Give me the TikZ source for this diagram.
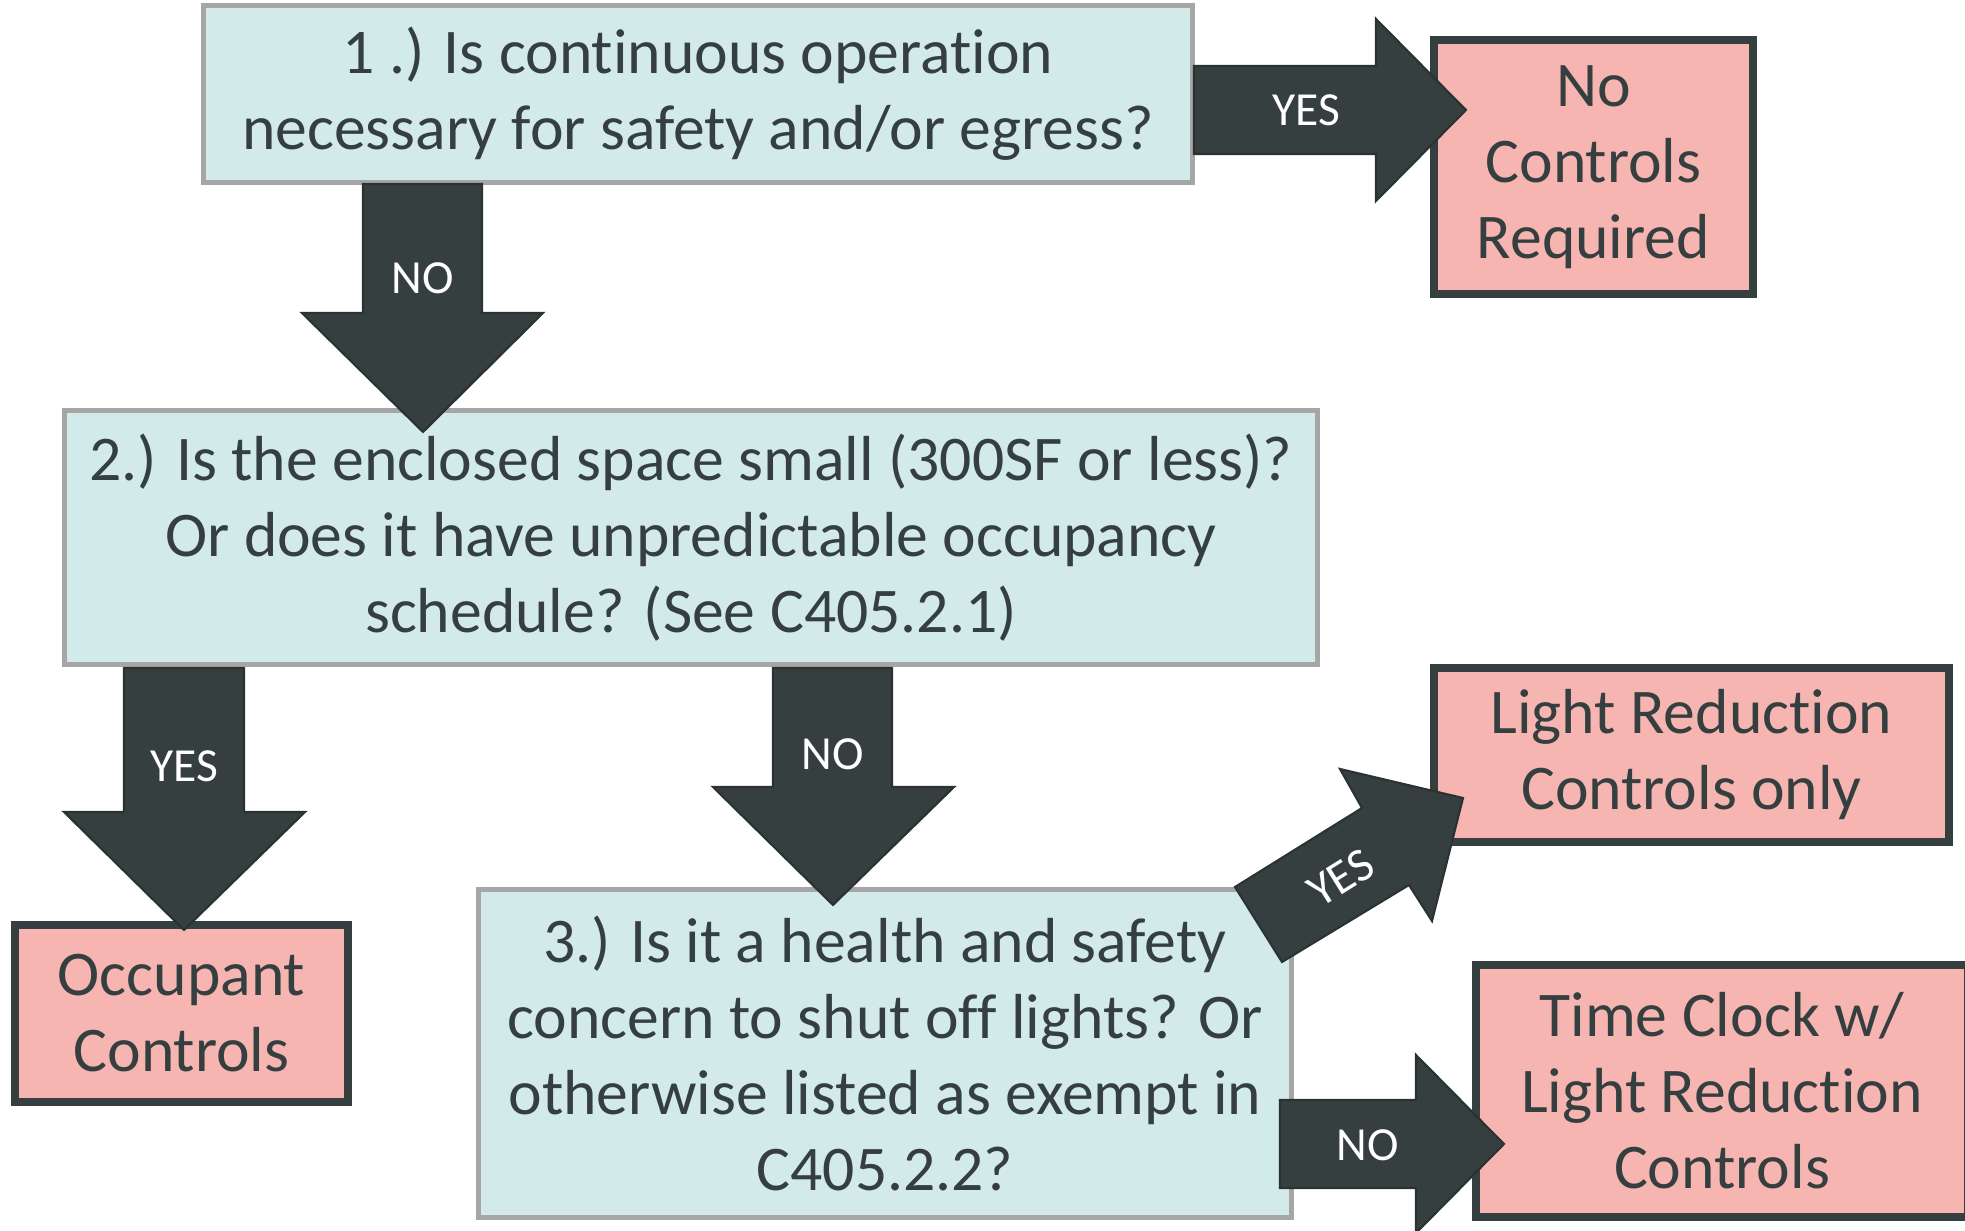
\documentclass[tikz,border=0pt]{standalone}
\usepackage{fontspec}
\setmainfont{Carlito}[Ligatures=NoCommon]
\definecolor{dark}{HTML}{353F3F}
\definecolor{qfill}{HTML}{D3EAEA}
\definecolor{qline}{HTML}{A6A6A6}
\definecolor{afill}{HTML}{F6B5B1}
\begin{document}
\begin{tikzpicture}[x=0.01cm,y=-0.01cm,
  qbox/.style={draw=qline,line width=1.4pt,fill=qfill,text=dark,align=center,inner sep=0pt,
    font=\fontsize{18.1}{21.6}\selectfont},
  abox/.style={draw=dark,line width=2.1pt,fill=afill,text=dark,align=center,inner sep=0pt,
    font=\fontsize{18.1}{21.6}\selectfont},
  blockarrow/.style={fill=dark,draw=dark!80!black,line width=0.6pt,line join=miter},
  alabel/.style={text=white,font=\fontsize{13.5}{16}\selectfont,inner sep=0pt}]
\useasboundingbox (0,0) rectangle (1965,1231);
\fill[white] (0,0) rectangle (1965,1231);
% boxes
\node[qbox,minimum width=9.88cm,minimum height=1.76cm] (q1) at (698,94)
  {1 .) Is continuous operation\\necessary for safety and/or egress?};
\node[abox,minimum width=3.19cm,minimum height=2.54cm] (nc) at (1593.5,167)
  {No\\Controls\\Required};
\node[qbox,minimum width=12.52cm,minimum height=2.53cm] (q2) at (691,537.5)
  {2.) Is the enclosed space small (300SF or less)?\\Or does it have unpredictable occupancy\\schedule? (See C405.2.1)};
\node[abox,minimum width=3.33cm,minimum height=1.77cm] (oc) at (181.5,1013.5)
  {Occupant\\Controls};
\node[qbox,minimum width=8.12cm,minimum height=3.27cm] (q3) at (885,1053.5)
  {3.) Is it a health and safety\\concern to shut off lights? Or\\otherwise listed as exempt in\\C405.2.2?};
\node[abox,minimum width=5.15cm,minimum height=1.74cm] (lr) at (1691.5,755)
  {Light Reduction\\Controls only};
\node[abox,minimum width=4.92cm,minimum height=2.52cm] (tc) at (1722,1091)
  {Time Clock w/\\Light Reduction\\Controls};
% arrows
\draw[blockarrow] (1194,66) -- (1376,66) -- (1376,19) -- (1466,110) -- (1376,201) -- (1376,154) -- (1194,154) -- cycle;
\node[alabel] (l1) at (1306,110) {YES};
\draw[blockarrow] (363,184) -- (482,184) -- (482,313) -- (543,313) -- (423,432) -- (302,313) -- (363,313) -- cycle;
\node[alabel] (l2) at (423,278) {NO};
\draw[blockarrow] (124,668) -- (244,668) -- (244,812) -- (305,812) -- (184,930) -- (64,812) -- (124,812) -- cycle;
\node[alabel] (l3) at (184,766) {YES};
\draw[blockarrow] (773,668) -- (892,668) -- (892,787) -- (954,787) -- (833,905) -- (713,787) -- (773,787) -- cycle;
\node[alabel] (l4) at (833,754) {NO};
\draw[blockarrow] (1280,1100) -- (1416,1100) -- (1416,1055) -- (1504,1144) -- (1416,1233) -- (1416,1188) -- (1280,1188) -- cycle;
\node[alabel] (l5) at (1368,1145) {NO};
\draw[blockarrow] (1235,887) -- (1362,808) -- (1340,769) -- (1463,798) -- (1432,921) -- (1409,885) -- (1282,962) -- cycle;
\node[alabel,rotate=32] (l6) at (1341,878) {YES};
\end{tikzpicture}
\end{document}
